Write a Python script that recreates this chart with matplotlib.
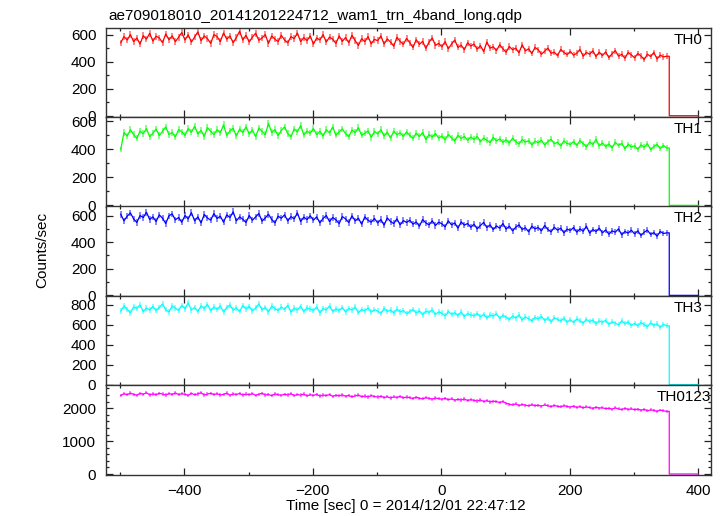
import numpy as np
import matplotlib
matplotlib.use("Agg")
import matplotlib.pyplot as plt
from matplotlib.ticker import MultipleLocator

plt.rcParams['font.family'] = ['Liberation Sans', 'DejaVu Sans']

title = "ae709018010_20141201224712_wam1_trn_4band_long.qdp"
xlabel = "Time [sec] 0 = 2014/12/01 22:47:12"
ylabel = "Counts/sec"
panel_names = ["TH0", "TH1", "TH2", "TH3", "TH0123"]
panel_colors = ["#ff0000", "#00ff00", "#0000ff", "#00ffff", "#ff00ff"]

# time grid of the (rebinned) light curve
t_first = -499.0
t_bin = 5.0
t_off = 355.0     # detector data drops to zero here
t_last = 400.0
exposure = 1.0    # seconds per original QDP bin (for Poisson error bars)

th0 = [540, 585, 560, 600, 548, 575, 530, 592, 566, 610,
       552, 588, 575, 540, 605, 562, 590, 548, 580, 615,
       560, 598, 545, 582, 620, 555, 590, 570, 535, 600,
       585, 548, 612, 566, 590, 540, 578, 625, 560, 595,
       545, 582, 610, 558, 575, 600, 535, 590, 566, 548,
       595, 560, 540, 585, 570, 612, 548, 578, 555, 590,
       530, 575, 560, 600, 545, 582, 566, 535, 590, 550,
       578, 540, 595, 555, 520, 570, 548, 585, 532, 565,
       555, 590, 530, 568, 545, 515, 580, 550, 528, 572,
       540, 505, 562, 528, 550, 498, 545, 575, 520, 535,
       510, 548, 495, 530, 560, 505, 522, 488, 540, 515,
       530, 492, 518, 475, 545, 500, 510, 482, 525, 495,
       470, 512, 488, 500, 465, 525, 480, 495, 460, 505,
       488, 455, 478, 500, 462, 470, 445, 490, 468, 452,
       475, 448, 462, 490, 440, 468, 455, 480, 438, 470,
       445, 472, 430, 458, 482, 440, 455, 425, 468, 450,
       428, 460, 442, 415, 455, 438, 468, 420, 448, 435,
       440]

th1 = [400, 520, 495, 540, 505, 478, 530, 512, 548, 490,
       515, 545, 498, 530, 560, 505, 520, 488, 540, 525,
       500, 548, 522, 565, 510, 535, 492, 555, 528, 505,
       540, 518, 575, 500, 532, 550, 495, 545, 520, 560,
       510, 538, 490, 552, 528, 505, 585, 520, 540, 498,
       535, 560, 512, 490, 545, 525, 570, 502, 530, 515,
       548, 505, 528, 495, 540, 518, 560, 500, 525, 545,
       512, 490, 538, 520, 555, 500, 515, 532, 485, 528,
       510, 540, 495, 522, 480, 530, 505, 518, 492, 525,
       500, 478, 515, 492, 520, 470, 505, 488, 512, 480,
       495, 470, 505, 482, 460, 500, 478, 492, 465, 488,
       470, 492, 455, 480, 465, 448, 485, 460, 475, 450,
       468, 445, 480, 455, 438, 470, 452, 462, 432, 458,
       448, 465, 430, 455, 472, 440, 450, 425, 460, 442,
       435, 455, 428, 462, 440, 418, 452, 435, 470, 425,
       445, 420, 438, 410, 450, 428, 442, 405, 435, 418,
       425, 400, 432, 415, 440, 398, 420, 435, 405, 428,
       410]

th2 = [610, 560, 595, 620, 575, 548, 600, 585, 625, 570,
       590, 555, 605, 580, 540, 598, 612, 568, 585, 550,
       600, 575, 622, 560, 590, 545, 608, 582, 565, 615,
       578, 595, 550, 605, 585, 628, 560, 590, 572, 548,
       600, 565, 590, 615, 558, 582, 610, 570, 545, 595,
       580, 605, 560, 592, 575, 620, 555, 588, 570, 598,
       565, 590, 545, 578, 600, 555, 585, 568, 540, 592,
       575, 548, 598, 560, 580, 535, 590, 565, 550, 578,
       545, 570, 528, 582, 555, 540, 575, 530, 562, 548,
       565, 535, 552, 520, 570, 545, 530, 560, 525, 550,
       538, 515, 560, 530, 545, 505, 552, 528, 540, 512,
       535, 500, 525, 548, 510, 530, 495, 522, 505, 540,
       498, 520, 485, 512, 530, 495, 508, 478, 520, 500,
       510, 485, 525, 495, 478, 512, 490, 505, 470, 498,
       488, 510, 475, 500, 482, 520, 468, 495, 480, 505,
       470, 492, 460, 485, 475, 500, 455, 480, 468, 490,
       462, 485, 450, 475, 490, 458, 472, 445, 480, 465,
       470]

th3 = [740, 790, 755, 720, 780, 765, 800, 735, 770, 750,
       785, 745, 775, 810, 752, 730, 790, 768, 745, 795,
       760, 820, 748, 775, 735, 790, 765, 805, 742, 780,
       755, 790, 730, 775, 800, 748, 770, 735, 795, 760,
       785, 740, 770, 810, 752, 775, 730, 790, 762, 745,
       780, 755, 795, 728, 768, 750, 785, 735, 772, 758,
       745, 780, 720, 765, 750, 790, 735, 760, 742, 775,
       730, 765, 748, 780, 722, 755, 740, 770, 728, 752,
       740, 715, 765, 735, 750, 720, 758, 730, 745, 712,
       735, 755, 718, 742, 700, 738, 725, 750, 705, 730,
       718, 690, 735, 705, 722, 695, 730, 685, 712, 700,
       692, 715, 680, 705, 670, 700, 688, 712, 665, 695,
       678, 655, 690, 668, 700, 650, 680, 662, 640, 675,
       660, 685, 645, 668, 630, 672, 655, 640, 665, 628,
       650, 625, 660, 640, 618, 655, 632, 648, 612, 640,
       625, 645, 605, 630, 618, 600, 640, 612, 628, 595,
       615, 590, 625, 600, 582, 620, 595, 610, 575, 605,
       590]

th0123 = [2390, 2440, 2410, 2460, 2420, 2395, 2450, 2425, 2470, 2405,
          2435, 2410, 2455, 2430, 2400, 2445, 2420, 2465, 2415, 2440,
          2425, 2390, 2450, 2410, 2435, 2470, 2400, 2430, 2455, 2415,
          2440, 2405, 2420, 2460, 2395, 2435, 2415, 2450, 2400, 2430,
          2410, 2445, 2390, 2425, 2455, 2400, 2420, 2380, 2435, 2410,
          2395, 2425, 2405, 2440, 2385, 2415, 2400, 2430, 2375, 2410,
          2390, 2420, 2370, 2400, 2385, 2415, 2360, 2395, 2375, 2405,
          2365, 2390, 2345, 2375, 2400, 2350, 2370, 2340, 2385, 2355,
          2340, 2365, 2325, 2350, 2310, 2345, 2330, 2360, 2315, 2340,
          2320, 2295, 2335, 2305, 2285, 2320, 2300, 2275, 2310, 2290,
          2275, 2300, 2260, 2285, 2245, 2270, 2250, 2280, 2235, 2260,
          2240, 2220, 2250, 2205, 2230, 2190, 2215, 2200, 2175, 2205,
          2150, 2120, 2100, 2130, 2085, 2110, 2095, 2070, 2105, 2080,
          2090, 2065, 2100, 2075, 2050, 2085, 2060, 2040, 2075, 2055,
          2035, 2065, 2025, 2050, 2010, 2040, 2020, 1995, 2030, 2005,
          2015, 1985, 2000, 1970, 2010, 1980, 1960, 1995, 1965, 1980,
          1955, 1975, 1940, 1965, 1920, 1950, 1935, 1905, 1945, 1920,
          1905]

off_rate = 0.0

series = [th0, th1, th2, th3, th0123]
ylims = [(-10, 651), (-8, 630), (-4, 668), (-7, 891), (-21, 2697)]
ymajor = [200, 200, 200, 200, 1000]
yminor = [100, 100, 100, 100, 200]
label_right_px = [703, 702, 703, 703, 711]

W, H = 723, 516
fig = plt.figure(figsize=(W / 100, H / 100), dpi=100)
left_px, right_px = 106, 711
top_px, bottom_px = 27.7, 474.7
ph = (bottom_px - top_px) / 5.0

fs = 11
for i in range(5):
    top = top_px + i * ph
    ax = fig.add_axes([left_px / W, 1 - (top + ph) / H,
                       (right_px - left_px) / W, ph / H])
    vals = np.asarray(series[i], dtype=float)
    t = t_first + t_bin * np.arange(len(vals))
    err = np.sqrt(vals * exposure) / exposure
    ax.errorbar(t, vals, yerr=err, fmt='none', ecolor=panel_colors[i],
                elinewidth=1.1, alpha=0.6, capsize=0)
    x = np.concatenate([t, [t_off, t_off, t_last]])
    y = np.concatenate([vals, [vals[-1], off_rate, off_rate]])
    ax.plot(x, y, color=panel_colors[i], lw=0.9)
    ax.set_xlim(-522, 420)
    ax.set_ylim(*ylims[i])
    ax.xaxis.set_major_locator(MultipleLocator(200))
    ax.xaxis.set_minor_locator(MultipleLocator(100))
    ax.yaxis.set_major_locator(MultipleLocator(ymajor[i]))
    ax.yaxis.set_minor_locator(MultipleLocator(yminor[i]))
    ax.tick_params(which='both', direction='in', top=True, right=True,
                   labelsize=fs, color='#222222', width=0.9)
    ax.tick_params(which='major', length=5, pad=7)
    ax.tick_params(which='minor', length=2.5)
    if i < 4:
        ax.tick_params(labelbottom=False)
    for sp in ax.spines.values():
        sp.set_linewidth(1.0)
        sp.set_color('#333333')
    xr = (label_right_px[i] - left_px) / (right_px - left_px)
    yb = 1 - 16.0 / ph
    ax.text(xr, yb, panel_names[i], transform=ax.transAxes, ha='right',
            va='baseline', fontsize=fs, color='black')

fig.text(108 / W, 1 - 20 / H, title, ha='left', va='baseline', fontsize=fs)
fig.text(406 / W, 1 - 506 / H, xlabel, ha='center', va='center', fontsize=fs)
fig.text(42 / W, 1 - 250 / H, ylabel, ha='center', va='center', rotation=90,
         fontsize=fs)

fig.savefig("out.png", dpi=100)
